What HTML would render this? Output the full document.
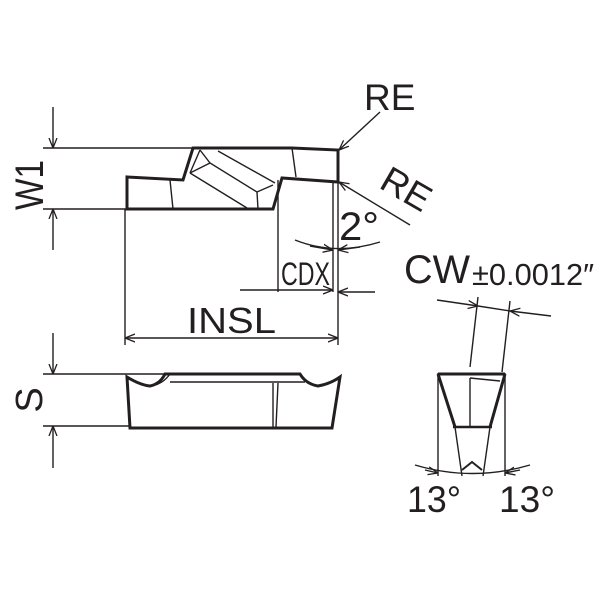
<!DOCTYPE html>
<html><head><style>body{margin:0;background:#fff}svg{display:block}text{font-family:"Liberation Sans",sans-serif;fill:#231f20}</style></head><body>
<svg width="600" height="600" viewBox="0 0 600 600" xmlns="http://www.w3.org/2000/svg">
<defs><marker id="a" viewBox="0 0 10 10" refX="10" refY="5" markerWidth="10" markerHeight="10" orient="auto-start-reverse" markerUnits="userSpaceOnUse"><path d="M0,1 L10,5 L0,9" fill="none" stroke="#231f20" stroke-width="1.3"/></marker></defs>
<g stroke="#231f20" fill="none" stroke-width="1.4">
<line x1="43" y1="148" x2="193" y2="148"/>
<line x1="43" y1="209" x2="127" y2="209"/>
<line x1="53" y1="107" x2="53" y2="148" marker-end="url(#a)"/>
<line x1="53" y1="250" x2="53" y2="209" marker-end="url(#a)"/>
<line x1="43" y1="374" x2="165" y2="374"/>
<line x1="43" y1="426" x2="130" y2="426"/>
<line x1="53" y1="333" x2="53" y2="374" marker-end="url(#a)"/>
<line x1="53" y1="468" x2="53" y2="426" marker-end="url(#a)"/>
<path d="M127,209 L127,177 L183,180 L193,148 L292,148 L338,150 L338,182 L282,178 L273,209 Z" stroke-width="3"/>
<line x1="170" y1="180" x2="173" y2="209"/>
<line x1="292" y1="148" x2="296" y2="177"/>
<path d="M200,150 L210,163 L257,192 L273,185"/>
<path d="M190,173 L210,163"/>
<path d="M190,173 L247,208"/>
<path d="M218,151 L275,183"/>
<path d="M257,192 L258,209"/>
<path d="M200,150 L190,173"/>
<line x1="125" y1="209" x2="125" y2="345"/>
<line x1="338" y1="182" x2="338" y2="345"/>
<line x1="232" y1="338" x2="125" y2="338" marker-end="url(#a)"/>
<line x1="232" y1="338" x2="338" y2="338" marker-end="url(#a)"/>
<line x1="278" y1="180" x2="278" y2="292"/>
<line x1="333" y1="182" x2="333" y2="292"/>
<line x1="240" y1="290" x2="333" y2="290" marker-end="url(#a)"/>
<line x1="375" y1="292" x2="338" y2="292" marker-end="url(#a)"/>
<path d="M295,240 Q335,256 380,242"/>
<line x1="310" y1="246" x2="333" y2="250" marker-end="url(#a)"/>
<line x1="360" y1="247" x2="338" y2="250" marker-end="url(#a)"/>
<line x1="380" y1="112" x2="339" y2="150" marker-end="url(#a)"/>
<line x1="410" y1="225" x2="339" y2="182" marker-end="url(#a)"/>
<path d="M127,377 Q140,385 150,386 Q160,384 165,374 L300,374 Q306,384 318,386 Q330,384 340,377 L332,428 L130,428 Z" stroke-width="3"/>
<line x1="170" y1="382" x2="305" y2="382"/>
<path d="M150,386 Q162,385 170,374"/>
<line x1="273" y1="383" x2="273" y2="427"/>
<line x1="278" y1="383" x2="276" y2="427"/>
<line x1="437" y1="300" x2="478" y2="306" marker-end="url(#a)"/>
<line x1="551" y1="316" x2="510" y2="311" marker-end="url(#a)"/>
<line x1="478" y1="306" x2="510" y2="311"/>
<line x1="478" y1="297" x2="470" y2="367"/>
<line x1="510" y1="301" x2="502" y2="372"/>
<line x1="438" y1="373" x2="438" y2="476"/>
<line x1="505" y1="373" x2="505" y2="476"/>
<line x1="438" y1="374" x2="505" y2="374" stroke-width="3"/>
<path d="M438,374 L455,427 M505,374 L490,427" stroke-width="3"/>
<line x1="453" y1="427" x2="492" y2="427" stroke-width="2.5"/>
<line x1="470" y1="378" x2="470" y2="427"/>
<line x1="470" y1="378" x2="500" y2="381"/>
<line x1="455" y1="427" x2="462" y2="476"/>
<line x1="490" y1="427" x2="483" y2="476"/>
<path d="M462,470 L472,462 L482,470" stroke-width="2"/>
<path d="M415,465 Q472,482 530,465"/>
<line x1="425" y1="470" x2="438" y2="473" marker-end="url(#a)"/>
<line x1="520" y1="470" x2="505" y2="473" marker-end="url(#a)"/>
</g>
<text font-size="40" text-anchor="middle" textLength="50" lengthAdjust="spacingAndGlyphs" transform="translate(43,185) rotate(-90)">W1</text>
<text font-size="38" text-anchor="middle" transform="translate(42,400) rotate(-90)">S</text>
<text x="364" y="110" font-size="37">RE</text>
<text font-size="37" text-anchor="middle" transform="translate(400,200) rotate(30)">RE</text>
<text x="339" y="240" font-size="40" textLength="40" lengthAdjust="spacingAndGlyphs">2°</text>
<text x="281" y="285" font-size="32" textLength="49" lengthAdjust="spacingAndGlyphs">CDX</text>
<text x="187" y="333" font-size="36" textLength="89" lengthAdjust="spacingAndGlyphs">INSL</text>
<text x="404" y="283" font-size="40" textLength="66" lengthAdjust="spacingAndGlyphs">CW</text>
<text x="472" y="285" font-size="31" textLength="122" lengthAdjust="spacingAndGlyphs">±0.0012″</text>
<text x="407" y="512" font-size="37" textLength="54" lengthAdjust="spacingAndGlyphs">13°</text>
<text x="499" y="512" font-size="37" textLength="56" lengthAdjust="spacingAndGlyphs">13°</text>
</svg>
</body></html>
